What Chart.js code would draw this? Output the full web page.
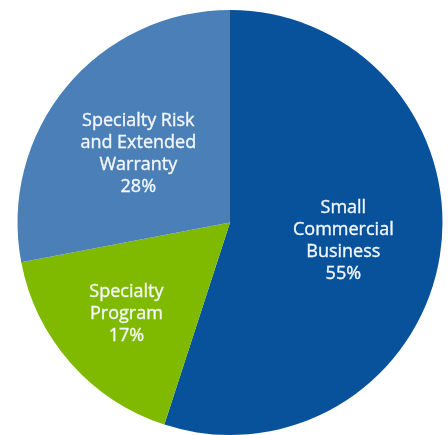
<!DOCTYPE html>
<html>
<head>
<meta charset="utf-8">
<script src="https://cdn.jsdelivr.net/npm/chart.js@4"></script>
<style>
    html, body { margin: 0; padding: 0; background: #fff; }
    #wrap { width: 448px; height: 435px; }
</style>
</head>
<body>
<div id="wrap"><canvas id="pieChart"></canvas></div>
<script>
const segments = [
    ['Small', 'Commercial', 'Business'],
    ['Specialty', 'Program'],
    ['Specialty Risk', 'and Extended', 'Warranty']
];
const shares = [55, 17, 28];

const colors = ['#08529b', '#7fba00', '#4a7fb7'];
// label placement: fraction of radius along the slice middle, plus a small y nudge
const labelRadius = [0.54, 0.65, 0.56];
const labelNudgeY = [0, 0, 7];

// draws the name + percent inside each slice
const sliceLabels = {
    id: 'sliceLabels',
    afterDatasetsDraw(chart) {
        const { ctx } = chart;
        const meta = chart.getDatasetMeta(0);
        ctx.save();
        ctx.fillStyle = '#f4f7fb';
        ctx.strokeStyle = '#f4f7fb';
        ctx.lineWidth = 0.35;
        ctx.font = '18px "Open Sans", sans-serif';
        ctx.textAlign = 'center';
        ctx.textBaseline = 'middle';
        const lineH = 22;
        meta.data.forEach((arc, i) => {
            const mid = (arc.startAngle + arc.endAngle) / 2;
            const r = arc.outerRadius * labelRadius[i];
            const x = arc.x + Math.cos(mid) * r;
            const y = arc.y + Math.sin(mid) * r + labelNudgeY[i];
            const lines = segments[i].concat([shares[i] + '%']);
            const top = y - (lines.length - 1) * lineH / 2;
            lines.forEach((txt, j) => {
                ctx.fillText(txt, x, top + j * lineH);
                ctx.strokeText(txt, x, top + j * lineH);
            });
        });
        ctx.restore();
    }
};

new Chart(document.getElementById('pieChart'), {
    type: 'pie',
    data: {
        labels: segments.map(s => s.join(' ')),
        datasets: [{
            data: shares,
            backgroundColor: colors,
            borderWidth: 0
        }]
    },
    options: {
        responsive: true,
        maintainAspectRatio: false,
        animation: false,
        layout: { padding: { left: 17, right: 5, top: 10, bottom: 0 } },
        plugins: {
            legend: { display: false },
            tooltip: { enabled: false }
        }
    },
    plugins: [sliceLabels]
});
</script>
</body>
</html>
